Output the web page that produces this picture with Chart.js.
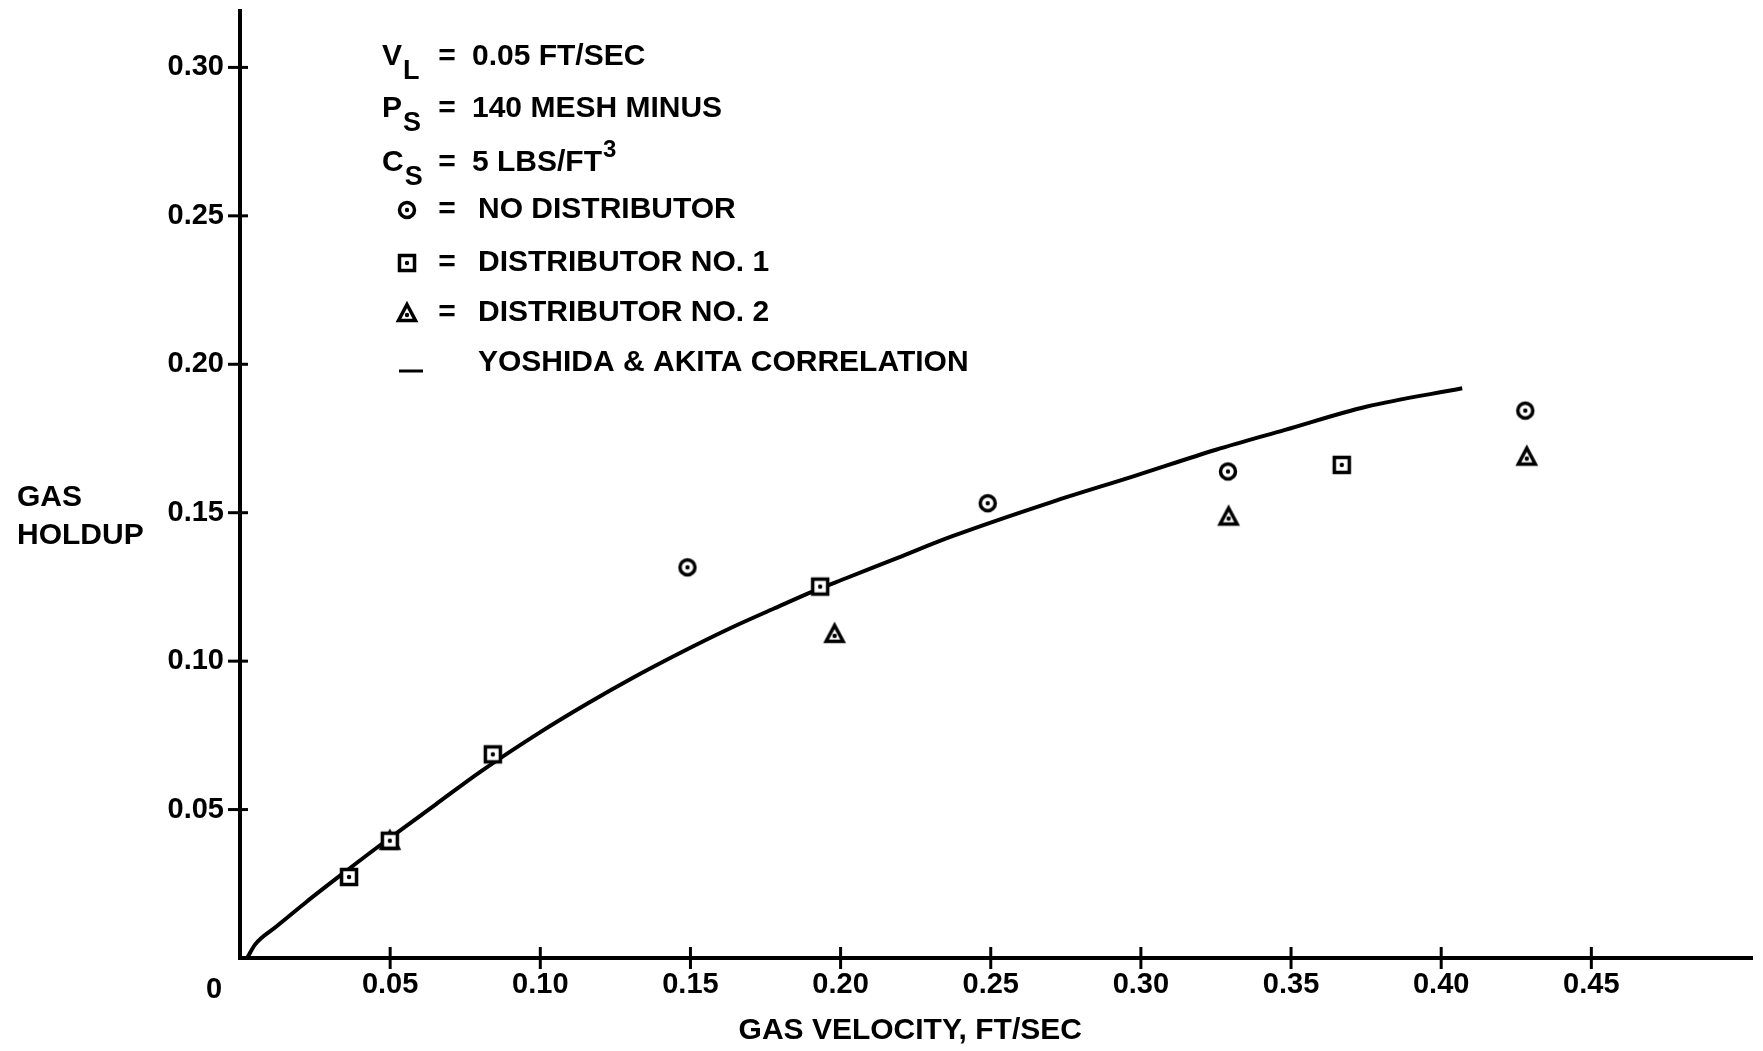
<!DOCTYPE html>
<html>
<head>
<meta charset="utf-8">
<title>Gas holdup vs gas velocity</title>
<script src="https://cdn.jsdelivr.net/npm/chart.js@4.4.1/dist/chart.umd.min.js"></script>
<style>
  html, body { margin: 0; padding: 0; background: #fff; }
  #wrap { width: 1763px; height: 1051px; }
</style>
</head>
<body>
<div id="wrap"><canvas id="holdup" width="1763" height="1051"></canvas></div>
<script>
// Values
const xTicks = [0.05, 0.10, 0.15, 0.20, 0.25, 0.30, 0.35, 0.40, 0.45];
const yTicks = [0.05, 0.10, 0.15, 0.20, 0.25, 0.30];

const seriesNames = ['NO DISTRIBUTOR', 'DISTRIBUTOR NO. 1', 'DISTRIBUTOR NO. 2', 'YOSHIDA & AKITA CORRELATION'];

const noDistX = [0.149, 0.249, 0.329, 0.428];
const noDistY = [0.1316, 0.1532, 0.1639, 0.1844];

const dist1X = [0.0363, 0.0499, 0.0842, 0.1932, 0.3669];
const dist1Y = [0.0273, 0.0395, 0.0686, 0.1251, 0.1661];

const dist2X = [0.0499, 0.198, 0.3292, 0.4285];
const dist2Y = [0.0395, 0.1092, 0.1487, 0.1689];

const curveX = [0.0024, 0.005, 0.012, 0.022, 0.036, 0.050, 0.065, 0.080, 0.100, 0.116, 0.131, 0.147,
                0.162, 0.178, 0.191, 0.202, 0.219, 0.237, 0.270, 0.298, 0.325, 0.348, 0.375, 0.407];
const curveY = [0.000, 0.0045, 0.0105, 0.0188, 0.0298, 0.0405, 0.0516, 0.0627, 0.0761, 0.0859, 0.0945, 0.1030,
                0.1105, 0.1178, 0.1236, 0.1280, 0.1348, 0.1420, 0.1535, 0.1624, 0.1712, 0.1779, 0.1857, 0.1919];

// conditions block at the top
const conditions = [
    { sym: 'V', sub: 'L', text: '0.05 FT/SEC' },
    { sym: 'P', sub: 'S', text: '140 MESH MINUS' },
    { sym: 'C', sub: 'S', text: '5 LBS/FT', sup: '3' }
];

const FONT = '"Liberation Sans", Arial, Helvetica, sans-serif';

const toPoints = (xs, ys) => xs.map((v, i) => ({ x: v, y: ys[i] }));

// open markers with a dot in the middle, like the plotted symbols
function makeMarker(shape) {
    const c = document.createElement('canvas');
    c.width = 26;
    c.height = 26;
    const g = c.getContext('2d');
    g.strokeStyle = '#000';
    g.fillStyle = '#fff';
    g.lineWidth = 3.5;
    g.beginPath();
    if (shape === 'circle') {
        g.arc(13, 13, 7.5, 0, Math.PI * 2);
    } else if (shape === 'square') {
        g.rect(5.5, 5.5, 15, 15);
    } else {
        g.moveTo(13, 4.5);
        g.lineTo(21.5, 20.5);
        g.lineTo(4.5, 20.5);
        g.closePath();
    }
    g.fill();
    g.stroke();
    g.fillStyle = '#000';
    g.beginPath();
    g.arc(13, shape === 'triangle' ? 15 : 13, 2.2, 0, Math.PI * 2);
    g.fill();
    return c;
}

const markers = {
    circle: makeMarker('circle'),
    square: makeMarker('square'),
    triangle: makeMarker('triangle')
};

function line(ctx, x1, y1, x2, y2) {
    ctx.beginPath();
    ctx.moveTo(x1, y1);
    ctx.lineTo(x2, y2);
    ctx.stroke();
}

const figureText = {
    id: 'figureText',
    afterDraw(chart) {
        const { ctx, chartArea: area, scales: { x, y } } = chart;
        ctx.save();
        ctx.strokeStyle = '#000';
        ctx.fillStyle = '#000';
        ctx.lineWidth = 3;

        // tick marks crossing the axes
        xTicks.forEach(v => {
            const px = x.getPixelForValue(v);
            line(ctx, px, area.bottom - 11, px, area.bottom + 11);
        });
        yTicks.forEach(v => {
            const py = y.getPixelForValue(v);
            line(ctx, area.left - 12, py, area.left + 8, py);
        });

        ctx.textBaseline = 'middle';
        ctx.font = `bold 29px ${FONT}`;
        ctx.textAlign = 'center';
        ctx.fillText('0', x.getPixelForValue(0) - 26, area.bottom + 32);

        // axis titles
        ctx.font = `bold 30px ${FONT}`;
        ctx.fillText('GAS VELOCITY, FT/SEC', x.getPixelForValue(0.2232), area.bottom + 73);
        ctx.textAlign = 'left';
        ctx.fillText('GAS', 17, 498);
        ctx.fillText('HOLDUP', 17, 536);

        // conditions + key
        const rowY = [57, 109, 163, 210, 263, 313, 363];
        conditions.forEach((c, i) => {
            const ry = rowY[i];
            ctx.font = `bold 30px ${FONT}`;
            ctx.textAlign = 'left';
            ctx.fillText(c.sym, 382, ry);
            const w = ctx.measureText(c.sym).width;
            ctx.font = `bold 27px ${FONT}`;
            ctx.fillText(c.sub, 382 + w + 1, ry + 15);
            ctx.font = `bold 30px ${FONT}`;
            ctx.textAlign = 'center';
            ctx.fillText('=', 447, ry);
            ctx.textAlign = 'left';
            ctx.fillText(c.text, 472, ry);
            if (c.sup) {
                const tw = ctx.measureText(c.text).width;
                ctx.font = `bold 24px ${FONT}`;
                ctx.fillText(c.sup, 472 + tw + 1, ry - 13);
            }
        });

        const keyMarks = [markers.circle, markers.square, markers.triangle];
        seriesNames.forEach((name, i) => {
            const ry = rowY[i + 3];
            if (i < 3) {
                const m = keyMarks[i];
                ctx.drawImage(m, 407 - m.width / 2, ry - m.height / 2);
                ctx.font = `bold 30px ${FONT}`;
                ctx.textAlign = 'center';
                ctx.fillText('=', 447, ry);
            } else {
                line(ctx, 399, ry + 8, 423, ry + 8);
            }
            ctx.font = `bold 30px ${FONT}`;
            ctx.textAlign = 'left';
            ctx.fillText(name, 478, ry);
        });

        ctx.restore();
    }
};

const ctx = document.getElementById('holdup').getContext('2d');

new Chart(ctx, {
    type: 'scatter',
    data: {
        datasets: [
            {
                label: seriesNames[3],
                data: toPoints(curveX, curveY),
                showLine: true,
                borderColor: '#000',
                borderWidth: 4,
                pointRadius: 0,
                cubicInterpolationMode: 'monotone',
                order: 2
            },
            {
                label: seriesNames[0],
                data: toPoints(noDistX, noDistY),
                pointStyle: markers.circle,
                pointRadius: 9,
                order: 1
            },
            {
                label: seriesNames[1],
                data: toPoints(dist1X, dist1Y),
                pointStyle: markers.square,
                pointRadius: 9,
                order: 1
            },
            {
                label: seriesNames[2],
                data: toPoints(dist2X, dist2Y),
                pointStyle: markers.triangle,
                pointRadius: 9,
                order: 1
            }
        ]
    },
    options: {
        responsive: false,
        animation: false,
        layout: {
            padding: { top: 11, right: 11, left: 0, bottom: 0 }
        },
        plugins: {
            legend: { display: false },
            tooltip: { enabled: false },
            title: { display: false }
        },
        scales: {
            x: {
                type: 'linear',
                min: 0,
                max: 0.5035,
                grid: { display: false, drawTicks: false },
                border: { display: true, color: '#000', width: 4 },
                afterBuildTicks: s => { s.ticks = xTicks.map(v => ({ value: v })); },
                afterFit: s => {
                    s.height = 93;
                    s.paddingLeft = 0;
                    s.paddingRight = 0;
                },
                ticks: {
                    color: '#000',
                    padding: 10,
                    autoSkip: false,
                    maxRotation: 0,
                    font: { family: FONT, size: 29, weight: 'bold' },
                    callback: v => v.toFixed(2)
                }
            },
            y: {
                type: 'linear',
                min: 0,
                max: 0.319,
                grid: { display: false, drawTicks: false },
                border: { display: true, color: '#000', width: 4 },
                afterBuildTicks: s => { s.ticks = yTicks.map(v => ({ value: v })); },
                afterFit: s => {
                    s.width = 240;
                    s.paddingTop = 0;
                    s.paddingBottom = 0;
                },
                ticks: {
                    color: '#000',
                    padding: 16,
                    font: { family: FONT, size: 29, weight: 'bold' },
                    callback: v => v.toFixed(2)
                }
            }
        }
    },
    plugins: [figureText]
});
</script>
</body>
</html>
